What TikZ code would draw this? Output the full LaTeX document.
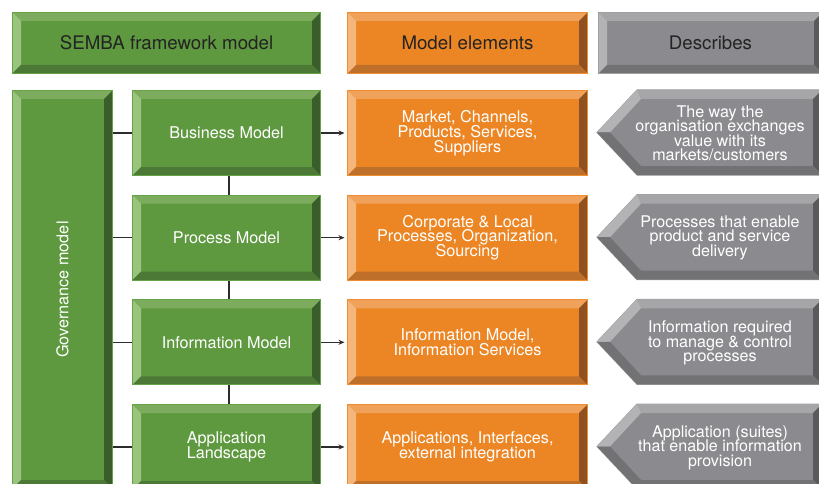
\documentclass[tikz,border=0pt]{standalone}
\usepackage{fontspec}
\setmainfont{TeX Gyre Heros}
\usetikzlibrary{arrows.meta}
\definecolor{gMain}{RGB}{94,153,64}
\definecolor{gTop}{RGB}{125,172,95}
\definecolor{gLeft}{RGB}{154,196,126}
\definecolor{gRight}{RGB}{58,94,43}
\definecolor{gBot}{RGB}{76,122,54}
\definecolor{gLine}{RGB}{101,163,71}
\definecolor{oMain}{RGB}{236,134,36}
\definecolor{oTop}{RGB}{240,161,90}
\definecolor{oLeft}{RGB}{245,182,124}
\definecolor{oRight}{RGB}{142,82,34}
\definecolor{oBot}{RGB}{190,111,42}
\definecolor{oLine}{RGB}{238,142,48}
\definecolor{dMain}{RGB}{139,139,143}
\definecolor{dTop}{RGB}{166,166,169}
\definecolor{dLeft}{RGB}{179,179,182}
\definecolor{dRight}{RGB}{90,90,93}
\definecolor{dBot}{RGB}{114,114,117}
\definecolor{dLine}{RGB}{160,160,163}
\definecolor{hText}{RGB}{35,35,35}
\definecolor{conn}{RGB}{45,45,45}
\newcommand\bevw{8.5}
\newcommand\bodyfont{\fontsize{16.2}{14.8}\selectfont\lineskiplimit=-20pt\relax}
\newcommand\descfont{\fontsize{16.1}{14.5}\selectfont\lineskiplimit=-20pt\relax}
\newcommand\headfont{\fontsize{18.7}{20}\selectfont}
\tikzset{
  bevbox/.style={draw=#1Line, line width=1pt, fill=#1Main, inner sep=0pt,
    align=center, text=white, font=\bodyfont, anchor=north west,
    path picture={
      \path (path picture bounding box.north west) coordinate (pNW)
            (path picture bounding box.north east) coordinate (pNE)
            (path picture bounding box.south west) coordinate (pSW)
            (path picture bounding box.south east) coordinate (pSE);
      \fill[#1Top] (pNW) -- (pNE) -- ([shift={(-\bevw,-\bevw)}]pNE) -- ([shift={(\bevw,-\bevw)}]pNW) -- cycle;
      \fill[#1Left] (pNW) -- ([shift={(\bevw,-\bevw)}]pNW) -- ([shift={(\bevw,\bevw)}]pSW) -- (pSW) -- cycle;
      \fill[#1Right] (pNE) -- (pSE) -- ([shift={(-\bevw,\bevw)}]pSE) -- ([shift={(-\bevw,-\bevw)}]pNE) -- cycle;
      \fill[#1Bot] (pSW) -- (pSE) -- ([shift={(-\bevw,\bevw)}]pSE) -- ([shift={(\bevw,\bevw)}]pSW) -- cycle;
    }},
  headbox/.style={bevbox=#1, text=hText, font=\headfont, minimum height=61},
  rowbox/.style={bevbox=#1, minimum height=85},
  connline/.style={draw=conn, line width=1.1pt},
  connarrow/.style={connline, -{Stealth[length=6pt,width=5pt]}, shorten >=2.5pt},
  desctext/.style={align=center, text=white, font=\descfont, inner sep=0pt}
}
% grey pointer shape, #1 = top y (pixels)
\newcommand\descshape[1]{%
  \begin{scope}[yshift=-#1]
    \filldraw[fill=dMain, draw=dLine, line width=1pt] (597,-42.5) -- (637,0) -- (822,0) -- (822,-85) -- (637,-85) -- cycle;
    \fill[dTop] (637,0) -- (822,0) -- (813,-9) -- (641,-9) -- cycle;
    \fill[dLeft] (597,-42.5) -- (637,0) -- (641,-9) -- (610,-42.5) -- cycle;
    \fill[dBot] (597,-42.5) -- (610,-42.5) -- (641,-76) -- (637,-85) -- cycle;
    \fill[dRight] (822,0) -- (822,-85) -- (813,-76) -- (813,-9) -- cycle;
    \fill[dBot] (637,-85) -- (822,-85) -- (813,-76) -- (641,-76) -- cycle;
  \end{scope}}
\begin{document}
\begin{tikzpicture}[x=1pt,y=1pt]
\useasboundingbox (0,0) rectangle (819,-484);
\clip (0,0) rectangle (819,-484);
\fill[white] (0,0) rectangle (819,-484);
% headers
\node[headbox=g, minimum width=308] (h1) at (12,-12) {SEMBA framework model};
\node[headbox=o, minimum width=240] (h2) at (347,-12) {Model elements};
\node[headbox=d, minimum width=224] (h3) at (598,-12) {Describes};
% governance
\node[bevbox=g, minimum width=100, minimum height=398] (gov) at (12,-90) {\rotatebox{90}{Governance model}};
% green column
\node[rowbox=g, minimum width=188] (g1) at (132,-90) {Business Model};
\node[rowbox=g, minimum width=188] (g2) at (132,-194.7) {Process Model};
\node[rowbox=g, minimum width=188] (g3) at (132,-299.3) {Information Model};
\node[rowbox=g, minimum width=188] (g4) at (132,-404) {Application\\Landscape};
% orange column
\node[rowbox=o, minimum width=240] (o1) at (347,-90) {Market, Channels,\\Products, Services,\\Suppliers};
\node[rowbox=o, minimum width=240] (o2) at (347,-194.7) {Corporate \& Local\\Processes, Organization,\\Sourcing};
\node[rowbox=o, minimum width=240] (o3) at (347,-299.3) {Information Model,\\Information Services};
\node[rowbox=o, minimum width=240] (o4) at (347,-404) {Applications, Interfaces,\\external integration};
% grey pointers
\descshape{90}
\descshape{194.7}
\descshape{299.3}
\descshape{404}
\node[desctext] (d1) at (720,-133.5) {The way the\\organisation exchanges\\value with its\\markets/customers};
\node[desctext] (d2) at (720,-237.7) {Processes that enable\\product and service\\delivery};
\node[desctext] (d3) at (720,-343) {Information required\\to manage \& control\\processes};
\node[desctext] (d4) at (720,-447.5) {Application (suites)\\that enable information\\provision};
% connectors
\foreach \g in {g1,g2,g3,g4} {
  \draw[connline] (gov.east |- \g.west) -- (\g.west);
}
\draw[connline] ([xshift=2.5]g1.south) -- ([xshift=2.5]g2.north);
\draw[connline] ([xshift=2.5]g2.south) -- ([xshift=2.5]g3.north);
\draw[connline] ([xshift=2.5]g3.south) -- ([xshift=2.5]g4.north);
\draw[connarrow] (g1.east) -- (o1.west);
\draw[connarrow] (g2.east) -- (o2.west);
\draw[connarrow] (g3.east) -- (o3.west);
\draw[connarrow] (g4.east) -- (o4.west);
\end{tikzpicture}
\end{document}
